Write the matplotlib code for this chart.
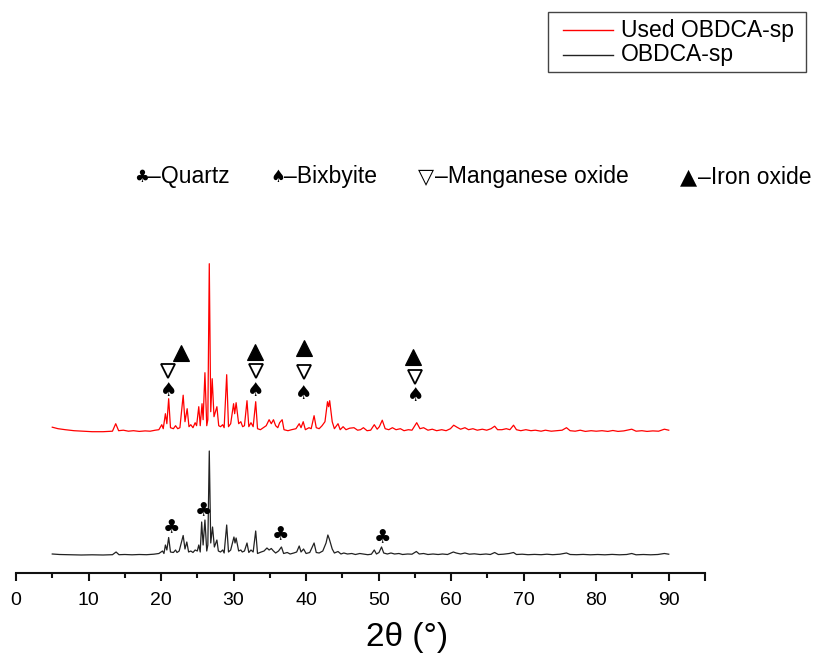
import matplotlib
matplotlib.use("Agg")
import matplotlib.pyplot as plt
from matplotlib import font_manager
from matplotlib.patches import Rectangle
from matplotlib.lines import Line2D

# ---------------- data ----------------
two_theta_raw = [5.0, 6.0, 7.5, 9.0, 10.5, 12.0, 13.3, 13.8, 14.2, 15.0, 16.0, 17.0, 18.0, 19.0, 19.7,
                 20.2, 20.4, 20.6, 20.8, 21.05, 21.3, 21.7, 22.0, 22.2, 22.5, 23.05, 23.3, 23.55, 23.8,
                 24.1, 24.4, 24.7, 25.0, 25.2, 25.4, 25.6, 25.8, 26.05, 26.3, 26.45, 26.65, 26.85, 27.1,
                 27.35, 27.7, 27.9, 28.2, 28.5, 28.7, 29.05, 29.3, 29.6, 30.05, 30.2, 30.35, 30.7, 31.0,
                 31.2, 31.5, 31.85, 32.1, 32.4, 32.7, 33.05, 33.3, 33.8, 34.2, 34.6, 34.9, 35.2, 35.5,
                 35.8, 36.2, 36.6, 36.9, 37.4, 37.8, 38.3, 38.7, 39.05, 39.3, 39.65, 40.0, 40.5, 41.1,
                 41.4, 41.8, 42.3, 42.75, 43.0, 43.2, 43.6, 43.9, 44.4, 44.8, 45.2, 45.7, 46.3, 46.8,
                 47.4, 47.9, 48.5, 49.0, 49.4, 49.7, 50.05, 50.4, 50.7, 51.2, 51.7, 52.2, 52.8, 53.3,
                 54.0, 54.6, 55.2, 55.6, 56.2, 56.8, 57.5, 58.2, 58.8, 59.5, 60.3, 60.7, 61.3, 61.9,
                 62.5, 63.2, 64.0, 64.8, 65.4, 66.0, 66.5, 67.2, 68.0, 68.6, 69.0, 69.8, 70.6, 71.5,
                 72.4, 73.2, 74.0, 75.0, 75.9, 76.4, 77.3, 78.2, 79.2, 80.2, 81.2, 82.2, 83.2, 84.2,
                 84.9, 85.5, 86.5, 87.5, 88.5, 89.4, 90.0]
intensity_raw = [1.0, 0.5, 0.3, 0.0, 0.2, 0.0, 0.3, 3.0, 0.3, 0.5, 0.2, 0.5, 0.3, 0.8, 1.5,
                 4.0, 1.5, 10.0, 5.0, 17.5, 3.0, 2.5, 5.0, 2.5, 4.0, 19.5, 6.0, 13.0, 3.0,
                 4.0, 2.5, 5.0, 4.0, 10.0, 3.0, 33.0, 10.0, 35.0, 4.0, 10.0, 104.0, 12.0, 28.0,
                 8.0, 15.0, 4.0, 3.0, 5.0, 2.0, 30.0, 3.0, 5.0, 18.0, 12.0, 17.0, 4.0, 5.0,
                 3.0, 4.0, 12.0, 2.5, 5.0, 3.0, 24.0, 1.5, 3.0, 4.0, 7.0, 5.0, 6.5, 4.0,
                 2.0, 4.0, 8.0, 1.5, 2.5, 1.0, 2.0, 3.0, 9.0, 3.0, 6.0, 1.5, 2.5, 12.0,
                 2.5, 2.0, 4.0, 12.0, 20.0, 16.0, 6.0, 2.0, 3.5, 1.0, 2.0, 1.0, 1.5, 0.5,
                 1.5, 1.0, 0.3, 0.8, 5.0, 1.0, 2.5, 8.0, 2.0, 1.0, 2.0, 1.0, 1.5, 0.5,
                 1.0, 0.8, 3.5, 1.0, 1.5, 0.5, 1.0, 0.5, 1.0, 0.5, 3.0, 2.0, 1.0, 2.0,
                 0.8, 1.2, 0.5, 1.0, 0.5, 2.5, 0.5, 0.8, 1.5, 2.5, 0.5, 0.8, 0.3, 0.6,
                 0.3, 0.8, 0.3, 0.8, 2.0, 0.5, 0.3, 0.6, 0.2, 0.5, 0.2, 0.6, 0.2, 0.5,
                 1.5, 0.2, 0.5, 0.2, 0.5, 1.5, 0.8]

two_theta_used = [5.0, 5.8, 6.8, 8.0, 9.2, 10.5, 12.0, 13.3, 13.75, 14.15, 14.8, 15.5, 16.2, 17.0, 17.8,
                  18.5, 19.2, 19.7, 20.1, 20.3, 20.6, 20.8, 21.05, 21.3, 21.7, 22.0, 22.3, 22.6, 23.05,
                  23.3, 23.6, 23.85, 24.1, 24.4, 24.7, 24.9, 25.2, 25.4, 25.65, 25.8, 26.05, 26.3, 26.45,
                  26.65, 26.85, 27.05, 27.3, 27.7, 27.95, 28.2, 28.5, 28.7, 29.05, 29.3, 29.6, 30.0, 30.15,
                  30.35, 30.7, 31.0, 31.25, 31.5, 31.85, 32.1, 32.4, 32.7, 33.05, 33.3, 33.7, 34.1, 34.5,
                  34.9, 35.2, 35.5, 35.8, 36.1, 36.35, 36.7, 36.95, 37.5, 38.0, 38.6, 39.05, 39.3, 39.6,
                  39.9, 40.4, 40.7, 41.1, 41.4, 41.8, 42.2, 42.6, 42.95, 43.1, 43.25, 43.6, 43.9, 44.4,
                  44.7, 45.1, 45.5, 46.0, 46.6, 47.1, 47.5, 47.9, 48.4, 48.9, 49.4, 49.8, 50.1, 50.5,
                  50.9, 51.4, 51.9, 52.4, 53.0, 53.5, 54.1, 54.6, 55.25, 55.7, 56.2, 56.8, 57.4, 58.0,
                  58.7, 59.3, 59.9, 60.35, 60.8, 61.3, 61.9, 62.4, 63.0, 63.6, 64.3, 64.9, 65.5, 66.0,
                  66.4, 67.0, 67.6, 68.1, 68.6, 69.0, 69.6, 70.3, 71.0, 71.6, 72.4, 73.0, 73.8, 74.6,
                  75.3, 75.9, 76.4, 77.1, 77.8, 78.5, 79.3, 80.0, 80.8, 81.6, 82.3, 83.0, 83.8, 84.9,
                  85.5, 86.3, 87.0, 87.8, 88.6, 89.4, 90.0]
intensity_used = [4.5, 3.0, 2.0, 1.0, 0.5, 0.0, 0.0, 0.5, 8.0, 1.0, 1.5, 0.5, 1.0, 0.3, 0.8,
                  0.5, 1.5, 2.0, 7.0, 3.0, 18.0, 8.0, 33.0, 4.0, 3.0, 6.0, 3.0, 4.0, 36.5,
                  10.0, 23.0, 5.0, 7.0, 4.0, 9.0, 6.0, 25.0, 6.0, 28.0, 12.0, 59.0, 6.0, 12.0,
                  168.0, 20.0, 53.0, 15.0, 25.0, 6.0, 5.0, 7.0, 4.0, 57.0, 5.0, 8.0, 28.0, 18.0,
                  29.0, 8.0, 10.0, 5.0, 6.0, 31.0, 5.0, 9.0, 5.0, 30.0, 3.0, 2.0, 4.0, 6.0,
                  12.0, 8.0, 12.0, 6.0, 4.0, 9.0, 12.0, 2.0, 1.0, 2.0, 3.0, 8.0, 4.0, 10.0,
                  2.0, 4.0, 3.0, 16.0, 4.0, 3.0, 6.0, 10.0, 30.0, 25.0, 31.0, 10.0, 3.0, 8.0,
                  2.0, 5.0, 2.0, 3.5, 4.0, 1.5, 2.0, 4.0, 1.0, 1.5, 7.0, 2.5, 5.0, 11.5,
                  3.0, 2.0, 4.0, 2.0, 3.0, 1.0, 2.0, 1.5, 9.0, 3.0, 4.0, 1.5, 2.5, 1.0,
                  2.0, 1.0, 3.0, 6.5, 4.5, 2.5, 4.0, 2.0, 3.0, 1.5, 2.5, 1.5, 3.0, 5.5,
                  2.0, 2.0, 3.0, 2.0, 6.5, 2.0, 1.0, 2.0, 1.0, 1.5, 0.5, 1.5, 0.5, 1.0,
                  1.5, 4.0, 1.0, 0.5, 1.5, 0.3, 1.0, 0.5, 1.0, 0.3, 1.2, 0.3, 0.8, 2.5,
                  0.5, 1.0, 0.3, 0.8, 0.5, 2.5, 1.5]

series_labels = ["Used OBDCA-sp", "OBDCA-sp"]

# phase markers: positions in 2theta
quartz_pos = [21.4, 25.8, 36.5, 50.6]
bixbyite_pos = [21.0, 33.05, 39.7, 55.05]
mn_oxide_pos = [20.9, 33.15, 39.7, 54.95]
fe_oxide_pos = [22.8, 32.9, 39.7, 54.7]

xticks_major = [0, 10, 20, 30, 40, 50, 60, 70, 80, 90, 95]
xtick_labels = ["0", "10", "20", "30", "40", "50", "60", "70", "80", "90", ""]
xticks_minor = [5, 15, 25, 35, 45, 55, 65, 75, 85]

# ---------------- style / layout ----------------
W, H = 815, 654
offset_raw = 18.0
offset_used = 141.3
quartz_y = [45.7, 62.3, 38.0, 35.3]
bixbyite_y = [183.0, 182.0, 179.7, 177.3]
mn_oxide_y = [202.3, 202.3, 200.7, 196.3]
fe_oxide_y = [220.0, 221.3, 225.0, 215.7]

names = {f.name for f in font_manager.fontManager.ttflist}
narrow = "Liberation Sans Narrow" if "Liberation Sans Narrow" in names else "Liberation Sans"
base = "Liberation Sans"
sym_fam = ["DejaVu Sans"]

fig = plt.figure(figsize=(W / 100, H / 100), dpi=100)
x0, x1 = 16, 705
ybot = 573
ax = fig.add_axes([x0 / W, (H - ybot) / H, (x1 - x0) / W, ybot / H])
ax.set_xlim(0, 95)
ax.set_ylim(0, ybot)

line_used, = ax.plot(two_theta_used, [v + offset_used for v in intensity_used], color="#ff0000",
                     lw=0.9, label=series_labels[0])
line_raw, = ax.plot(two_theta_raw, [v + offset_raw for v in intensity_raw], color="#222222",
                    lw=0.9, label=series_labels[1])

for s in ["left", "right", "top"]:
    ax.spines[s].set_visible(False)
ax.spines["bottom"].set_linewidth(1.5)
ax.spines["bottom"].set_color("#111111")
ax.set_yticks([])
ax.set_xticks(xticks_major)
ax.set_xticklabels(xtick_labels, fontfamily=narrow, fontsize=14)
ax.set_xticks(xticks_minor, minor=True)
ax.tick_params(axis="x", which="major", direction="out", length=6, width=1.5, pad=8, color="#111111")
ax.tick_params(axis="x", which="minor", direction="out", length=3.5, width=1.5, color="#111111")

ax.set_xlabel("2θ (°)", fontfamily=base, fontsize=24)
ax.xaxis.set_label_coords((407 - x0) / (x1 - x0), -0.086)

# phase symbols on the curves
for x, y in zip(quartz_pos, quartz_y):
    ax.text(x, y, "♣", ha="center", va="center", fontsize=14, family=sym_fam, clip_on=False)
for x, y in zip(bixbyite_pos, bixbyite_y):
    ax.text(x, y, "♠", ha="center", va="center", fontsize=14, family=sym_fam, clip_on=False)
ax.plot(mn_oxide_pos, mn_oxide_y, linestyle="none", marker="v", markersize=10.5,
        markerfacecolor="white", markeredgecolor="black", markeredgewidth=1.3, clip_on=False)
ax.plot(fe_oxide_pos, fe_oxide_y, linestyle="none", marker="^", markersize=11.5,
        markerfacecolor="black", markeredgecolor="black", markeredgewidth=0.8, clip_on=False)

# symbol key
key_y = 1 - 177 / H
keys = [(134, "♣", 12, "–Quartz"), (270, "♠", 12, "–Bixbyite"),
        (418, "▽", 15, "–Manganese oxide"), (680, "▲", 16, "–Iron oxide")]
sym_w = {"♣": 14, "♠": 14, "▽": 17, "▲": 18}
for px, sym, fs, txt in keys:
    fig.text(px / W, key_y, sym, ha="left", va="center", fontsize=fs, family=sym_fam)
    fig.text((px + sym_w[sym]) / W, key_y, txt, ha="left", va="center", fontsize=16.5, family=base)

# legend box (drawn in figure pixels)
def fx(px):
    return px / W

def fy(py):
    return 1 - py / H

fig.patches.append(Rectangle((fx(548), fy(72)), fx(806) - fx(548), fy(12) - fy(72),
                             transform=fig.transFigure, fill=False, edgecolor="#444444", lw=1.0))
for row_y, src, lab in [(30, line_used, series_labels[0]), (55, line_raw, series_labels[1])]:
    fig.lines.append(Line2D([fx(563), fx(613)], [fy(row_y), fy(row_y)], transform=fig.transFigure,
                            color=src.get_color(), lw=1.0))
    fig.text(fx(621), fy(row_y), lab, ha="left", va="center", fontsize=16.5, family=base)

fig.savefig("out.png", dpi=100)
